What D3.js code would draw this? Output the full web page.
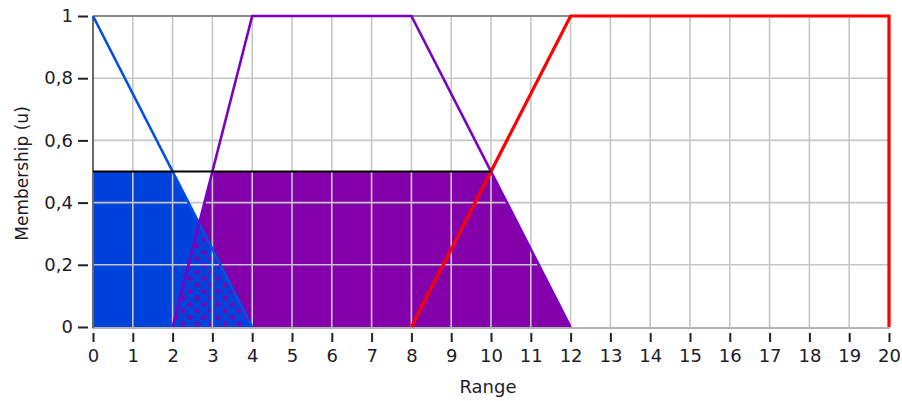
<!DOCTYPE html>
<html>
<head>
<meta charset="utf-8">
<script src="https://cdn.jsdelivr.net/npm/d3@7"></script>
<style>
  html, body { margin: 0; padding: 0; background: #fff; }
  svg { display: block; font-family: "DejaVu Sans", Verdana, sans-serif; }
</style>
</head>
<body>
<svg id="chart" width="902" height="401"></svg>
<script>
// ---- data ----
const xTickValues = [0,1,2,3,4,5,6,7,8,9,10,11,12,13,14,15,16,17,18,19,20];
const xTickLabels = ["0","1","2","3","4","5","6","7","8","9","10","11","12","13","14","15","16","17","18","19","20"];
const yTickValues = [0, 0.2, 0.4, 0.6, 0.8, 1];
const yTickLabels = ["0", "0,2", "0,4", "0,6", "0,8", "1"];

const lowX  = [0, 4];
const lowY  = [1, 0];
const midX  = [2, 4, 8, 12];
const midY  = [0, 1, 1, 0];
const highX = [8, 12, 20, 20];
const highY = [0, 1, 1, 0];

const cutLevel = 0.5;
const cutX = [0, 10];

const xLabel = "Range";
const yLabel = "Membership (u)";

// ---- setup ----
const svg = d3.select("#chart");
const x = d3.scaleLinear().domain([0, 20]).range([93, 889]);
const y = d3.scaleLinear().domain([0, 1]).range([327, 16]);

const colBlue = "#0042dc";
const colBlueLine = "#0050e6";
const colPurple = "#8400aa";
const colPurpleLine = "#7a00c2";
const colRed = "#ff0000";

const pts = (xs, ys) => xs.map((v, i) => [v, ys[i]]);
const lowPts = pts(lowX, lowY);
const midPts = pts(midX, midY);
const highPts = pts(highX, highY);

const area = d3.area().x(d => x(d[0])).y0(y(0)).y1(d => y(d[1]));
const line = d3.line().x(d => x(d[0])).y(d => y(d[1]));

const defs = svg.append("defs");
defs.append("clipPath").attr("id", "cutClip")
  .append("rect")
  .attr("x", x(0)).attr("y", y(cutLevel))
  .attr("width", x(20) - x(0)).attr("height", y(0) - y(cutLevel));
defs.append("clipPath").attr("id", "midClip")
  .append("path").attr("d", area(midPts));

// overlap pattern: blue with sparse purple diamonds
const pat = defs.append("pattern").attr("id", "dots")
  .attr("patternUnits", "userSpaceOnUse")
  .attr("x", x(2)).attr("y", y(0))
  .attr("width", 14).attr("height", 13);
pat.append("rect").attr("width", 14).attr("height", 13).attr("fill", colBlue);
pat.append("path").attr("d", "M3.5,0.5 L6.5,3.5 L3.5,6.5 L0.5,3.5 Z").attr("fill", colPurple);
pat.append("path").attr("d", "M10.5,7 L13.5,10 L10.5,13 L7.5,10 Z").attr("fill", colPurple);

// ---- fills ----
const fills = svg.append("g").attr("clip-path", "url(#cutClip)");
fills.append("path").attr("d", area(lowPts)).attr("fill", colBlue);
fills.append("path").attr("d", area(midPts)).attr("fill", colPurple);
fills.append("g").attr("clip-path", "url(#midClip)")
  .append("path").attr("d", area(lowPts)).attr("fill", "url(#dots)");

// ---- grid ----
const grid = svg.append("g").attr("stroke", "#c6c6c6").attr("stroke-width", 1.6);
grid.selectAll("line.vx").data(xTickValues.filter(v => v > 0 && v < 20)).join("line")
  .attr("x1", d => x(d)).attr("x2", d => x(d)).attr("y1", y(1)).attr("y2", y(0));
grid.selectAll("line.hy").data(yTickValues.filter(v => v > 0 && v < 1)).join("line")
  .attr("x1", x(0)).attr("x2", x(20)).attr("y1", d => y(d)).attr("y2", d => y(d));

// frame
svg.append("line").attr("x1", x(0)).attr("x2", x(20)).attr("y1", y(1)).attr("y2", y(1))
  .attr("stroke", "#8c8c8c").attr("stroke-width", 2);
svg.append("line").attr("x1", x(0) - 1).attr("x2", x(20) + 1).attr("y1", y(0) + 1).attr("y2", y(0) + 1)
  .attr("stroke", "#b4b4b4").attr("stroke-width", 2);
svg.append("line").attr("x1", x(0)).attr("x2", x(0)).attr("y1", y(1)).attr("y2", y(0) + 1)
  .attr("stroke", "#6a6a6a").attr("stroke-width", 2);

// ---- lines ----
svg.append("path").attr("d", line(lowPts)).attr("fill", "none")
  .attr("stroke", colBlueLine).attr("stroke-width", 2.6);
svg.append("path").attr("d", line(midPts)).attr("fill", "none")
  .attr("stroke", colPurpleLine).attr("stroke-width", 2.6);
svg.append("path").attr("d", line(highPts)).attr("fill", "none")
  .attr("stroke", colRed).attr("stroke-width", 3.2);
svg.append("line").attr("x1", x(cutX[0])).attr("x2", x(cutX[1]))
  .attr("y1", y(cutLevel)).attr("y2", y(cutLevel))
  .attr("stroke", "#000").attr("stroke-width", 2);

// ---- axes ----
const xAxis = d3.axisBottom(x).tickValues(xTickValues)
  .tickFormat((d, i) => xTickLabels[i]).tickSize(9).tickPadding(7);
const gx = svg.append("g").attr("transform", `translate(0,${y(0) + 6})`).call(xAxis);
gx.select(".domain").remove();
gx.selectAll(".tick line").attr("stroke", "#222").attr("stroke-width", 2);
gx.selectAll(".tick text").attr("fill", "#1c1c28").attr("font-size", 18)
  .attr("font-family", "DejaVu Sans, Verdana, sans-serif");

const yAxis = d3.axisLeft(y).tickValues(yTickValues)
  .tickFormat((d, i) => yTickLabels[i]).tickSize(10).tickPadding(5);
const gy = svg.append("g").attr("transform", `translate(${x(0) - 5},0)`).call(yAxis);
gy.select(".domain").remove();
gy.selectAll(".tick line").attr("stroke", "#222").attr("stroke-width", 2);
gy.selectAll(".tick text").attr("fill", "#1c1c28").attr("font-size", 18)
  .attr("font-family", "DejaVu Sans, Verdana, sans-serif");

// axis titles
svg.append("text").attr("x", (x(0) + x(20)) / 2 - 3).attr("y", 393)
  .attr("text-anchor", "middle").attr("font-size", 18).attr("fill", "#1c1c28")
  .text(xLabel);
svg.append("text").attr("transform", `translate(28,${(y(0) + y(1)) / 2 + 2}) rotate(-90)`)
  .attr("text-anchor", "middle").attr("font-size", 17).attr("fill", "#1c1c28")
  .text(yLabel);
</script>
</body>
</html>
